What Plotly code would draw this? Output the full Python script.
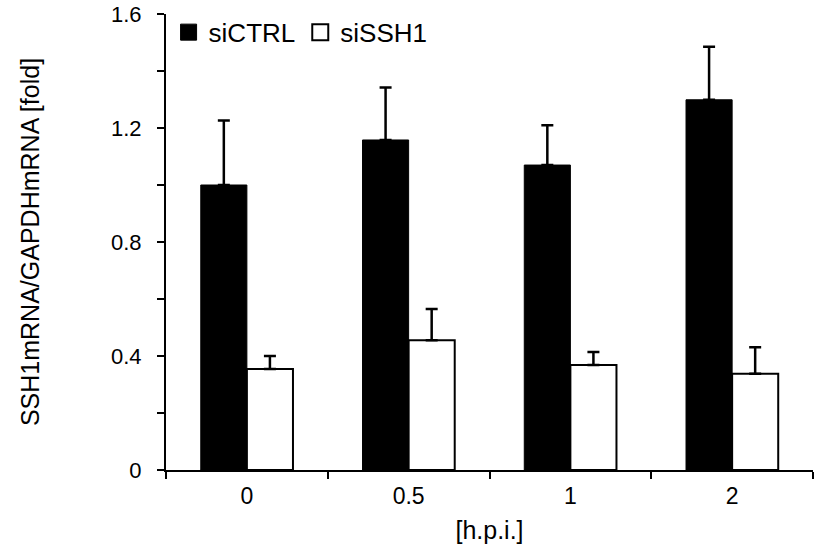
import plotly.graph_objects as go

categories = ["0", "0.5", "1", "2"]
ctrl_values = [1.00, 1.158, 1.070, 1.299]
ctrl_err = [0.226, 0.184, 0.140, 0.186]
ssh_values = [0.354, 0.455, 0.368, 0.338]
ssh_err = [0.046, 0.110, 0.046, 0.093]
y_tick_vals = [0, 0.2, 0.4, 0.6, 0.8, 1.0, 1.2, 1.4, 1.6]
y_tick_text = ["0", "", "0.4", "", "0.8", "", "1.2", "", "1.6"]

FONT = "Liberation Sans, Arial, sans-serif"
FS = 25
TFS = 22

fig = go.Figure()
fig.add_trace(go.Bar(
    x=categories, y=ctrl_values, name="siCTRL", showlegend=False,
    marker=dict(color="black", line=dict(color="black", width=1)),
    error_y=dict(type="data", array=ctrl_err, arrayminus=[0]*4, symmetric=False,
                 color="black", thickness=2.5, width=6),
))
fig.add_trace(go.Bar(
    x=categories, y=ssh_values, name="siSSH1", showlegend=False,
    marker=dict(color="white", line=dict(color="black", width=2)),
    error_y=dict(type="data", array=ssh_err, arrayminus=[0]*4, symmetric=False,
                 color="black", thickness=2.5, width=6),
))
# legend entries
fig.add_trace(go.Scatter(
    x=[None], y=[None], mode="markers", name="siCTRL",
    marker=dict(symbol="square", size=18, color="black", line=dict(color="black", width=1)),
))
fig.add_trace(go.Scatter(
    x=[None], y=[None], mode="markers", name="siSSH1",
    marker=dict(symbol="square", size=18, color="white", line=dict(color="black", width=2)),
))

fig.update_layout(
    width=815, height=548,
    margin=dict(l=166, r=2, t=14, b=78),
    paper_bgcolor="white", plot_bgcolor="white",
    barmode="group", bargap=0.43, bargroupgap=0,
    font=dict(family=FONT, size=FS, color="black"),
    legend=dict(orientation="h", x=0.004, xanchor="left", y=0.960, yanchor="middle",
                font=dict(size=26), bgcolor="rgba(0,0,0,0)", itemsizing="trace",
                tracegroupgap=0),
    xaxis=dict(
        type="category", showline=True, linecolor="black", linewidth=2,
        ticks="outside", tickson="boundaries", ticklen=7, tickwidth=2, tickcolor="black",
        showgrid=False, zeroline=False, automargin=False,
        title=dict(text="[h.p.i.]", font=dict(size=FS), standoff=14),
        tickfont=dict(size=TFS + 1), ticklabelstandoff=4,
    ),
    yaxis=dict(
        range=[0, 1.6], showline=True, linecolor="black", linewidth=2,
        ticks="outside", ticklen=7, tickwidth=2, tickcolor="black",
        tickvals=y_tick_vals, ticktext=y_tick_text,
        showgrid=False, zeroline=False, automargin=False,
        ticklabeloverflow="allow",
        title=dict(text="SSH1mRNA/GAPDHmRNA [fold]", font=dict(size=FS), standoff=64),
        tickfont=dict(size=TFS), ticklabelstandoff=11,
    ),
)

fig.write_html("out.html", config={"displayModeBar": False},
               post_script="document.body.style.margin='0';")
